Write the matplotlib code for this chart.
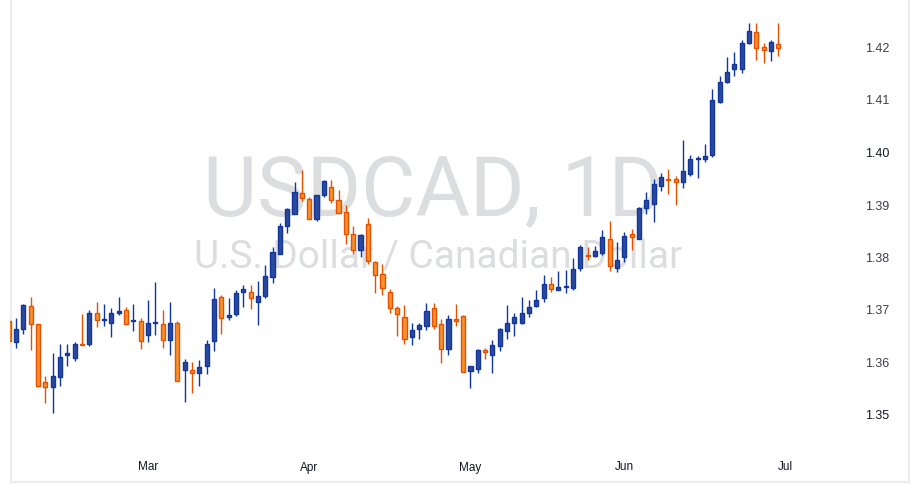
import matplotlib

matplotlib.use("Agg")
import matplotlib.pyplot as plt
import matplotlib.transforms as mtransforms
import numpy as np

# daily bars, first one is only partly visible at the left edge
opens = [1.3681, 1.3641, 1.3666, 1.3710, 1.3676, 1.3565, 1.3556, 1.3576, 1.3617, 1.3611,
         1.3638, 1.3639, 1.3697, 1.3684, 1.3679, 1.3697, 1.3702, 1.3681, 1.3681, 1.3655,
         1.3678, 1.3676, 1.3645, 1.3678, 1.3588, 1.3588, 1.3582, 1.3596, 1.3643, 1.3727,
         1.3689, 1.3695, 1.3737, 1.3738, 1.3719, 1.3729, 1.3765, 1.3809, 1.3862, 1.3885,
         1.3925, 1.3914, 1.3876, 1.3921, 1.3938, 1.3912, 1.3889, 1.3847, 1.3817, 1.3866,
         1.3794, 1.3771, 1.3738, 1.3706, 1.3689, 1.3651, 1.3666, 1.3672, 1.3706, 1.3676,
         1.3628, 1.3685, 1.3691, 1.3586, 1.3590, 1.3626, 1.3618, 1.3634, 1.3662, 1.3679,
         1.3678, 1.3698, 1.3710, 1.3725, 1.3752, 1.3740, 1.3747, 1.3744, 1.3782, 1.3807,
         1.3805, 1.3811, 1.3839, 1.3782, 1.3803, 1.3847, 1.3839, 1.3897, 1.3904, 1.3940,
         1.3952, 1.3952, 1.3946, 1.3961, 1.3990, 1.3990, 1.3998, 1.4100, 1.4137, 1.4161,
         1.4161, 1.4211, 1.4232, 1.4203, 1.4196, 1.4209]
highs = [1.3681, 1.3687, 1.3714, 1.3727, 1.3676, 1.3578, 1.3620, 1.3638, 1.3639, 1.3642,
         1.3695, 1.3703, 1.3718, 1.3714, 1.3706, 1.3727, 1.3708, 1.3714, 1.3687, 1.3721,
         1.3756, 1.3702, 1.3718, 1.3681, 1.3609, 1.3603, 1.3607, 1.3645, 1.3744, 1.3731,
         1.3725, 1.3740, 1.3750, 1.3750, 1.3758, 1.3788, 1.3822, 1.3868, 1.3897, 1.3946,
         1.3969, 1.3919, 1.3922, 1.3950, 1.3950, 1.3931, 1.3902, 1.3862, 1.3847, 1.3879,
         1.3796, 1.3790, 1.3742, 1.3710, 1.3712, 1.3679, 1.3678, 1.3716, 1.3716, 1.3685,
         1.3693, 1.3714, 1.3693, 1.3596, 1.3628, 1.3630, 1.3645, 1.3668, 1.3712, 1.3697,
         1.3727, 1.3721, 1.3740, 1.3769, 1.3765, 1.3777, 1.3780, 1.3801, 1.3826, 1.3822,
         1.3824, 1.3855, 1.3872, 1.3832, 1.3851, 1.3857, 1.3900, 1.3927, 1.3952, 1.3963,
         1.3971, 1.3959, 1.4027, 1.3998, 1.3996, 1.4020, 1.4123, 1.4148, 1.4184, 1.4194,
         1.4218, 1.4249, 1.4249, 1.4211, 1.4218, 1.4249]
lows = [1.3644, 1.3631, 1.3657, 1.3627, 1.3557, 1.3526, 1.3507, 1.3558, 1.3597, 1.3606,
        1.3636, 1.3635, 1.3671, 1.3673, 1.3652, 1.3694, 1.3676, 1.3662, 1.3629, 1.3641,
        1.3656, 1.3631, 1.3618, 1.3567, 1.3528, 1.3545, 1.3559, 1.3580, 1.3624, 1.3657,
        1.3683, 1.3691, 1.3708, 1.3704, 1.3674, 1.3725, 1.3754, 1.3809, 1.3849, 1.3885,
        1.3910, 1.3876, 1.3872, 1.3919, 1.3906, 1.3887, 1.3828, 1.3809, 1.3803, 1.3790,
        1.3735, 1.3731, 1.3698, 1.3653, 1.3639, 1.3636, 1.3647, 1.3664, 1.3666, 1.3601,
        1.3617, 1.3672, 1.3584, 1.3554, 1.3582, 1.3609, 1.3582, 1.3624, 1.3647, 1.3653,
        1.3676, 1.3689, 1.3708, 1.3719, 1.3737, 1.3740, 1.3735, 1.3740, 1.3778, 1.3799,
        1.3803, 1.3807, 1.3777, 1.3775, 1.3794, 1.3818, 1.3838, 1.3885, 1.3870, 1.3929,
        1.3923, 1.3902, 1.3935, 1.3958, 1.3954, 1.3984, 1.3994, 1.4098, 1.4135, 1.4148,
        1.4154, 1.4209, 1.4180, 1.4173, 1.4178, 1.4186]
closes = [1.3644, 1.3666, 1.3712, 1.3676, 1.3559, 1.3556, 1.3578, 1.3613, 1.3620, 1.3639,
          1.3636, 1.3697, 1.3683, 1.3686, 1.3698, 1.3700, 1.3676, 1.3683, 1.3643, 1.3679,
          1.3680, 1.3645, 1.3678, 1.3567, 1.3603, 1.3582, 1.3594, 1.3639, 1.3723, 1.3687,
          1.3693, 1.3735, 1.3742, 1.3725, 1.3729, 1.3767, 1.3813, 1.3862, 1.3895, 1.3927,
          1.3916, 1.3876, 1.3921, 1.3948, 1.3912, 1.3887, 1.3847, 1.3818, 1.3845, 1.3796,
          1.3769, 1.3744, 1.3706, 1.3695, 1.3647, 1.3664, 1.3674, 1.3700, 1.3672, 1.3628,
          1.3685, 1.3681, 1.3584, 1.3596, 1.3626, 1.3622, 1.3636, 1.3666, 1.3678, 1.3689,
          1.3698, 1.3708, 1.3721, 1.3752, 1.3742, 1.3746, 1.3749, 1.3780, 1.3822, 1.3805,
          1.3815, 1.3841, 1.3786, 1.3798, 1.3843, 1.3841, 1.3898, 1.3912, 1.3942, 1.3956,
          1.3950, 1.3946, 1.3967, 1.3990, 1.3992, 1.3996, 1.4102, 1.4138, 1.4156, 1.4171,
          1.4211, 1.4234, 1.4201, 1.4198, 1.4213, 1.4201]

month_labels = ["Mar", "Apr", "May", "Jun", "Jul"]
month_bars = [18, 40, 62, 83, 105]
price_ticks = [1.35, 1.36, 1.37, 1.38, 1.39, 1.40, 1.41, 1.42, 1.43]

UP_FILL, UP_EDGE = "#2c4a9b", "#1236a0"
DOWN_FILL, DOWN_EDGE = "#f7912f", "#e65100"

W, H = 921, 491


def plot_data():
    fig = plt.figure(figsize=(W / 100, H / 100), dpi=100)
    fig.patch.set_facecolor("white")

    # light frame round the whole chart
    frame = fig.add_axes([10.5 / W, (H - 481.5) / H, 898 / W, 481.5 / H + 0.05])
    frame.set_xticks([])
    frame.set_yticks([])
    frame.patch.set_alpha(0)
    for sp in frame.spines.values():
        sp.set_color("#ededed")
        sp.set_linewidth(1.6)
    frame.spines["top"].set_visible(False)

    # chart pane: pixel 0..450 vertically, 10..857 horizontally
    ax = fig.add_axes([10 / W, (H - 450) / H, 847 / W, 450 / H])
    ax.patch.set_alpha(0)
    for sp in ax.spines.values():
        sp.set_visible(False)
    ax.set_xticks([])
    ax.set_yticks([])

    px_bar = 7.33
    ax.set_xlim(-6 / px_bar, 104 + (857 - 778.3) / px_bar)
    px_unit = 5250.0
    ax.set_ylim(1.42 - 401 / px_unit, 1.42 + 49 / px_unit)

    o = np.array(opens)
    h = np.array(highs)
    l = np.array(lows)
    c = np.array(closes)
    x = np.arange(len(o)) - 1
    up = c >= o

    # watermark
    ax.text(0.5, (450 - 215) / 450, "USDCAD, 1D", transform=ax.transAxes,
            ha="center", va="baseline", fontsize=60, family="Roboto",
            color="#dcdddf", zorder=0)
    ax.text(0.505, (450 - 268) / 450, "U.S. Dollar / Canadian Dollar",
            transform=ax.transAxes, ha="center", va="baseline", fontsize=28,
            family="Roboto", color="#dcdddf", zorder=0)

    wick_colors = np.where(up, UP_EDGE, DOWN_EDGE)
    ax.vlines(x, l, h, colors=wick_colors, linewidth=1.0, zorder=2)

    bottoms = np.minimum(o, c)
    heights = np.maximum(np.abs(c - o), 0.00004)
    ax.bar(x, heights, bottom=bottoms, width=0.56,
           color=np.where(up, UP_FILL, DOWN_FILL),
           edgecolor=wick_colors, linewidth=1.0, zorder=3)

    # time scale
    for lab, b in zip(month_labels, month_bars):
        ax.text(b, -(467.5 - 450) / 450, lab, transform=ax.get_xaxis_transform(),
                ha="center", va="center", fontsize=8.5, family="Liberation Sans",
                color="#131722", clip_on=False)

    # price scale, 1.43 sits half outside the top edge as in the original
    trans = mtransforms.blended_transform_factory(fig.transFigure, ax.transData)
    for p in price_ticks:
        strong = p in (1.40, 1.35)
        ax.text(865 / W, p, f"{p:.2f}", transform=trans, ha="left", va="center",
                fontsize=9, family="Liberation Sans",
                color="#131722" if strong else "#3c3f48", clip_on=False)

    plt.savefig("out.png", dpi=100)


if __name__ == "__main__":
    plot_data()
